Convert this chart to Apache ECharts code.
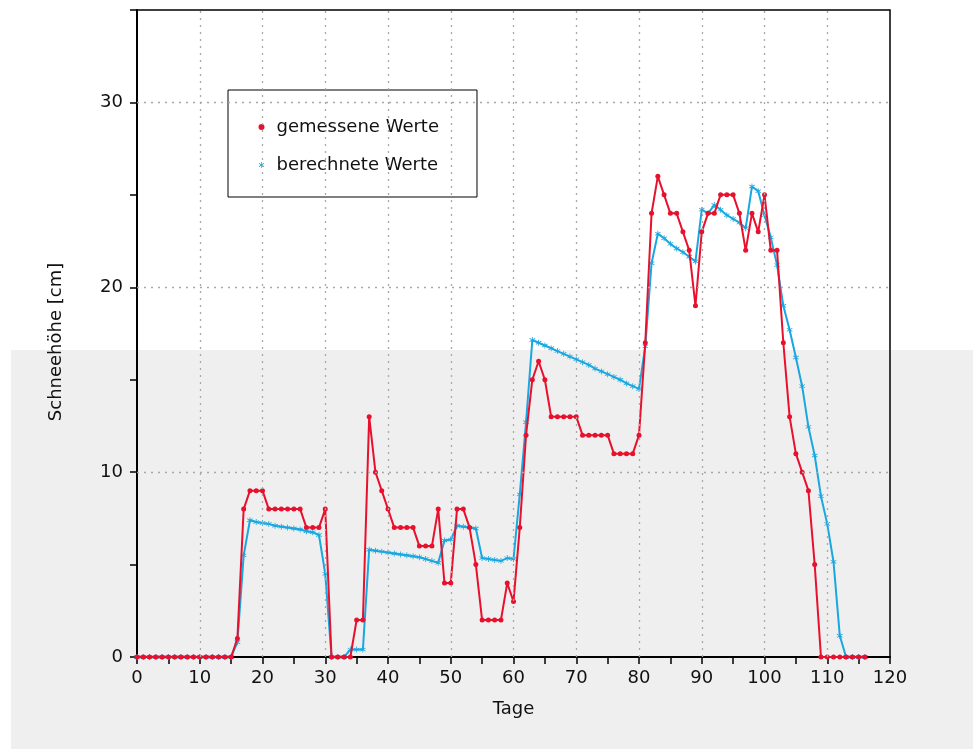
<!DOCTYPE html>
<html>
<head>
<meta charset="utf-8">
<script src="https://cdn.jsdelivr.net/npm/echarts@6/dist/echarts.min.js"></script>
<style>
  html, body { margin: 0; padding: 0; background: #fff; }
  #chart { width: 973px; height: 749px; }
</style>
</head>
<body>
<div id="chart"></div>
<script>
// Tage (days) 0..116
const seriesNames = ['gemessene Werte', 'berechnete Werte'];
const xTicks = [0, 10, 20, 30, 40, 50, 60, 70, 80, 90, 100, 110, 120];
const yTicks = [0, 10, 20, 30];

// gemessene Werte (measured), one value per day from day 0
const measured = [
  0,0,0,0,0,0,0,0,0,0,
  0,0,0,0,0,0,1,8,9,9,
  9,8,8,8,8,8,8,7,7,7,
  8,0,0,0,0,2,2,13,10,9,
  8,7,7,7,7,6,6,6,8,4,
  4,8,8,7,5,2,2,2,2,4,
  3,7,12,15,16,15,13,13,13,13,
  13,12,12,12,12,12,11,11,11,11,
  12,17,24,26,25,24,24,23,22,19,
  23,24,24,25,25,25,24,22,24,23,
  25,22,22,17,13,11,10,9,5,0,
  0,0,0,0,0,0,0
];

// berechnete Werte (computed), one value per day from day 0
const computed = [
  0,0,0,0,0,0,0,0,0,0,
  0,0,0,0,0,0,0.8,5.5,7.4,7.3,
  7.25,7.2,7.1,7.05,7.0,6.95,6.9,6.8,6.75,6.6,
  4.5,0,0,0,0.4,0.4,0.4,5.8,5.75,5.7,
  5.65,5.6,5.55,5.5,5.45,5.4,5.3,5.2,5.1,6.3,
  6.35,7.1,7.05,7.0,6.95,5.35,5.3,5.25,5.2,5.35,
  5.3,8.8,12.7,17.15,17.0,16.85,16.7,16.55,16.4,16.25,
  16.1,15.95,15.8,15.6,15.45,15.3,15.15,15.0,14.8,14.65,
  14.5,16.8,21.3,22.9,22.65,22.35,22.1,21.9,21.65,21.4,
  24.2,24.0,24.45,24.2,23.9,23.7,23.5,23.2,25.45,25.2,
  23.9,22.7,21.2,19.0,17.7,16.2,14.65,12.45,10.9,8.7,
  7.2,5.15,1.15,0,0,0,0
];

const RED = '#e8112d';
const BLUE = '#19a7e0';
const FONT = 'DejaVu Sans';
const asterisk = 'path://M-0.6,-5L0.6,-5L0.6,-1.2L3.8,-3.2L4.4,-2.2L1.2,0L4.4,2.2L3.8,3.2L0.6,1.2L0.6,5L-0.6,5L-0.6,1.2L-3.8,3.2L-4.4,2.2L-1.2,0L-4.4,-2.2L-3.8,-3.2L-0.6,-1.2Z';

const toPairs = arr => arr.map((v, i) => [i, v]);

const gridLines = [];
xTicks.forEach(v => { if (v > 0 && v < 120) gridLines.push({ xAxis: v }); });
yTicks.forEach(v => { if (v > 0) gridLines.push({ yAxis: v }); });

const chart = echarts.init(document.getElementById('chart'), null, { renderer: 'canvas' });
chart.setOption({
  animation: false,
  backgroundColor: '#ffffff',
  textStyle: { fontFamily: FONT },
  graphic: {
    elements: [{
      type: 'rect', z: -100, silent: true,
      shape: { x: 11, y: 350, width: 962, height: 399 },
      style: { fill: '#efefef' }
    }]
  },
  grid: {
    left: 137, right: 83, top: 10, bottom: 92,
    show: true, borderColor: '#000', borderWidth: 1.5,
    backgroundColor: 'transparent'
  },
  legend: {
    left: 228, top: 90,
    orient: 'vertical',
    data: [
      { name: seriesNames[0], icon: 'circle' },
      { name: seriesNames[1], icon: asterisk }
    ],
    itemWidth: 20, itemHeight: 6,
    itemGap: 20,
    padding: [28, 38, 23, 30.5],
    borderColor: '#000', borderWidth: 1,
    backgroundColor: '#fff',
    textStyle: { fontFamily: FONT, fontSize: 18, color: '#111' }
  },
  xAxis: {
    type: 'value', min: 0, max: 120, interval: 10,
    name: 'Tage', nameLocation: 'middle', nameGap: 43,
    nameTextStyle: { fontFamily: FONT, fontSize: 18, color: '#111' },
    axisLine: { lineStyle: { color: '#000', width: 2 } },
    axisTick: { length: 7, lineStyle: { color: '#000', width: 1.5 } },
    minorTick: { show: true, splitNumber: 2, length: 7, lineStyle: { color: '#000', width: 1.5 } },
    axisLabel: { margin: 12, fontFamily: FONT, fontSize: 18, color: '#111' },
    splitLine: { show: false }
  },
  yAxis: {
    type: 'value', min: 0, max: 35, interval: 5,
    name: 'Schneehöhe [cm]', nameLocation: 'middle', nameGap: 72, nameRotate: 90,
    nameTextStyle: { fontFamily: FONT, fontSize: 18, color: '#111', padding: [0, 17, 0, 0] },
    axisLine: { lineStyle: { color: '#000', width: 2 } },
    axisTick: { length: 7, lineStyle: { color: '#000', width: 1.5 } },
    axisLabel: {
      margin: 14, fontFamily: FONT, fontSize: 18, color: '#111',
      formatter: v => (yTicks.indexOf(v) >= 0 ? String(v) : '')
    },
    splitLine: { show: false }
  },
  series: [
    {
      name: 'grid', type: 'line', data: [], silent: true, z: 1,
      markLine: {
        silent: true, symbol: ['none', 'none'], label: { show: false },
        lineStyle: { color: '#a8a8a8', type: [2, 5], width: 1.3 },
        emphasis: { disabled: true },
        data: gridLines
      }
    },
    {
      name: seriesNames[0], type: 'line', z: 4,
      data: toPairs(measured),
      symbol: 'circle', symbolSize: 5, showAllSymbol: true,
      lineStyle: { color: RED, width: 2 },
      itemStyle: { color: RED }
    },
    {
      name: seriesNames[1], type: 'line', z: 3,
      data: toPairs(computed),
      symbol: asterisk, symbolSize: 6, showAllSymbol: true,
      lineStyle: { color: BLUE, width: 2 },
      itemStyle: { color: BLUE }
    }
  ]
});
</script>
</body>
</html>
